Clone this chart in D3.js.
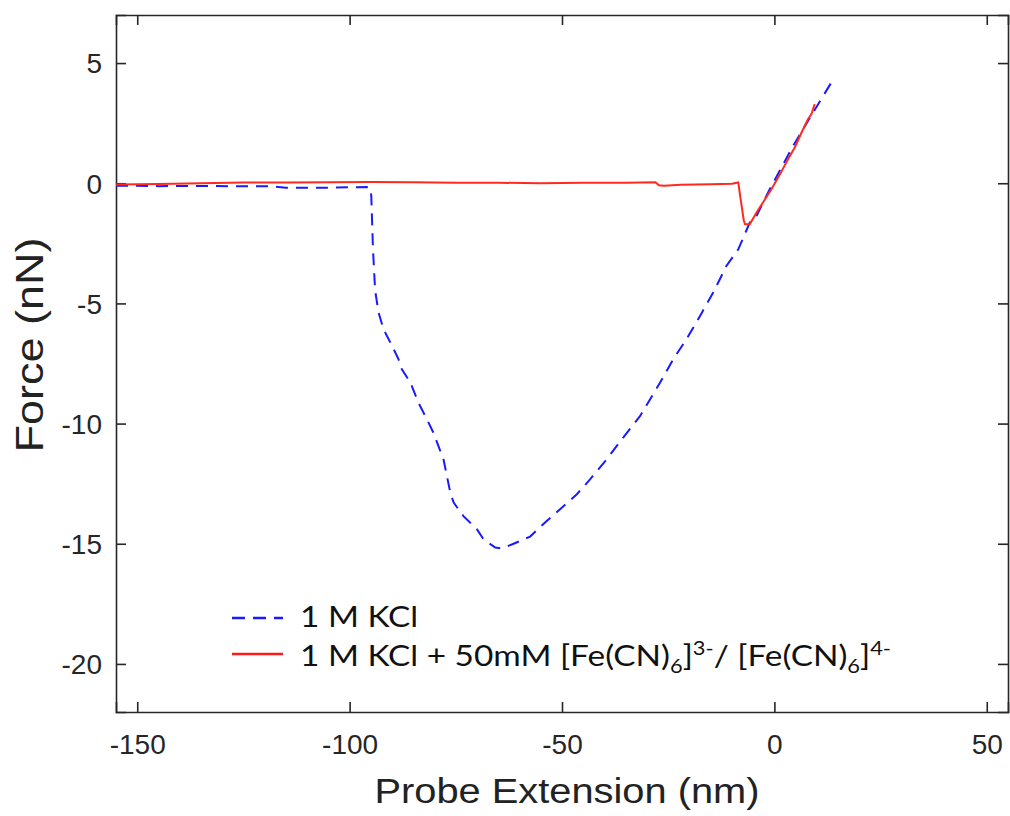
<!DOCTYPE html>
<html>
<head>
<meta charset="utf-8">
<script src="https://cdn.jsdelivr.net/npm/d3@7/dist/d3.min.js"></script>
<style>
  body { margin: 0; background: #fff; }
  svg { display: block; }
</style>
</head>
<body>
<svg class="force" width="1010" height="816"></svg>
<script>
// 1 M KCl curve (blue, dashed)
var kclExt = [-155, -145, -135, -125, -118, -115, -108, -100, -96, -95.1, -94.9, -94.5, -94.0, -93.2, -92.0, -90.0,
  -88.5, -87.7, -85.7, -83.8, -81.8, -80.3, -77.9, -76.3, -75.5, -73.2, -70.0, -68.5, -65.7, -64.2, -61.4, -57.5,
  -53.6, -50.5, -46.5, -43.4, -39.5, -35.6, -31.6, -26.9, -23.8, -20.7, -17.5, -14.4, -11.3, -8.5, -5.8, -4.2,
  -1.1, 4.4, 9.1, 13.4];
var kclForce = [-0.10, -0.12, -0.11, -0.13, -0.13, -0.19, -0.19, -0.17, -0.16, -0.2, -0.53, -2.75, -4.45, -5.37, -6.08, -6.77,
  -7.32, -7.74, -8.29, -9.13, -9.82, -10.37, -11.49, -12.87, -13.29, -13.85, -14.40, -14.81, -15.16, -15.2, -15.0, -14.7,
  -14.05, -13.57, -12.94, -12.32, -11.49, -10.58, -9.68, -8.29, -7.32, -6.49, -5.52, -4.55, -3.44, -2.75, -1.64, -1.36,
  -0.25, 1.55, 2.94, 4.19];

// 1 M KCl + ferri/ferrocyanide curve (red, solid)
var feExt = [-155, -145, -135, -125, -115, -105, -95, -85, -75, -65, -55, -45, -35, -28, -27.2, -26, -22, -15, -10,
  -8.5, -8.0, -7.2, -6.9, -5.8, -4.2, -2.7, -0.7, 1.3, 3.2, 4.8, 6.4, 7.9, 8.7, 9.5];
var feForce = [-0.05, -0.03, 0.0, 0.03, 0.03, 0.04, 0.05, 0.04, 0.02, 0.02, 0.0, 0.02, 0.02, 0.04, -0.08, -0.1, -0.06, -0.04, -0.02,
  0.03, -0.6, -1.55, -1.71, -1.71, -1.22, -0.8, -0.25, 0.37, 1.0, 1.49, 2.11, 2.66, 2.87, 3.29];

var xTicks = [-150, -100, -50, 0, 50];
var yTicks = [5, 0, -5, -10, -15, -20];

var svg = d3.select("svg.force"),
    margin = {top: 15, right: 2, bottom: 104, left: 116},
    width = +svg.attr("width") - margin.left - margin.right,
    height = +svg.attr("height") - margin.top - margin.bottom,
    g = svg.append("g").attr("transform", "translate(" + margin.left + "," + margin.top + ")");

var axisColor = "#262626";

var x = d3.scaleLinear().domain([-155, 55]).range([0, width]),
    y = d3.scaleLinear().domain([-22, 7]).range([height, 0]);

function pairs(xs, ys) {
  return xs.map(function(v, i) { return {ext: v, force: ys[i]}; });
}

// plain hyphen for negatives, like the original figure
function fmt(d) { return String(d); }

var line = d3.line()
    .x(function(d) { return x(d.ext); })
    .y(function(d) { return y(d.force); });

// axes with inward ticks on all four sides (box on)
g.append("g")
    .attr("class", "axis axis--x")
    .attr("transform", "translate(0," + height + ")")
    .call(d3.axisBottom(x).tickValues(xTicks).tickSize(-10).tickPadding(22).tickFormat(fmt));
g.append("g")
    .attr("class", "axis axis--x2")
    .call(d3.axisTop(x).tickValues(xTicks).tickSize(-10).tickFormat(""));
g.append("g")
    .attr("class", "axis axis--y")
    .call(d3.axisLeft(y).tickValues(yTicks).tickSize(-10).tickPadding(14).tickFormat(fmt));
g.append("g")
    .attr("class", "axis axis--y2")
    .attr("transform", "translate(" + width + ",0)")
    .call(d3.axisRight(y).tickValues(yTicks).tickSize(-10).tickFormat(""));

g.selectAll(".axis path").attr("stroke", axisColor).attr("stroke-width", 1.6);
g.selectAll(".axis line").attr("stroke", axisColor).attr("stroke-width", 1.6);
g.selectAll(".axis text")
    .attr("fill", axisColor)
    .style("font", "28px 'Liberation Sans', Arial, sans-serif");
g.selectAll(".axis--y text").attr("dy", "0.35em");

// curves
g.append("path")
    .datum(pairs(kclExt, kclForce))
    .attr("d", line)
    .attr("fill", "none")
    .attr("stroke", "#1a1aff")
    .attr("stroke-width", 2)
    .attr("stroke-dasharray", "12,8");

g.append("path")
    .datum(pairs(feExt, feForce))
    .attr("d", line)
    .attr("fill", "none")
    .attr("stroke", "#ff2a1f")
    .attr("stroke-width", 2);

// axis labels
svg.append("text")
    .attr("x", 567)
    .attr("y", 803)
    .attr("text-anchor", "middle")
    .attr("fill", "#222")
    .attr("textLength", 385)
    .attr("lengthAdjust", "spacingAndGlyphs")
    .style("font", "35px 'Liberation Sans', Arial, sans-serif")
    .text("Probe Extension (nm)");

svg.append("text")
    .attr("transform", "translate(43,345) rotate(-90)")
    .attr("text-anchor", "middle")
    .attr("fill", "#222")
    .attr("textLength", 215)
    .attr("lengthAdjust", "spacingAndGlyphs")
    .style("font", "39px 'Liberation Sans', Arial, sans-serif")
    .text("Force (nN)");

// legend
var legend = svg.append("g").attr("class", "legend");

legend.append("line")
    .attr("x1", 232).attr("x2", 283).attr("y1", 618).attr("y2", 618)
    .attr("stroke", "#1a1aff").attr("stroke-width", 2.5).attr("stroke-dasharray", "13,8");
legend.append("line")
    .attr("x1", 232).attr("x2", 283).attr("y1", 654).attr("y2", 654)
    .attr("stroke", "#ff1a1a").attr("stroke-width", 2.5);

// the source figure's text is a little wider than Lato, so stretch it sideways
var legText = legend.append("g")
    .attr("transform", "translate(300,0) scale(1.15,1) translate(-300,0)")
    .style("font", "29px Lato, 'Open Sans', sans-serif")
    .attr("fill", "#111");

legText.append("text").attr("x", 300).attr("y", 627).text("1 M KCl");

var t2 = legText.append("text").attr("x", 300).attr("y", 666);
t2.append("tspan").text("1 M KCl + 50mM [Fe(CN)");
t2.append("tspan").attr("dy", 7).style("font-size", "19px").text("6");
t2.append("tspan").attr("dy", -7).text("]");
t2.append("tspan").attr("dy", -11).style("font-size", "19px").text("3-");
t2.append("tspan").attr("dy", 11).text("/ [Fe(CN)");
t2.append("tspan").attr("dy", 7).style("font-size", "19px").text("6");
t2.append("tspan").attr("dy", -7).text("]");
t2.append("tspan").attr("dy", -11).style("font-size", "19px").text("4-");
</script>
</body>
</html>
